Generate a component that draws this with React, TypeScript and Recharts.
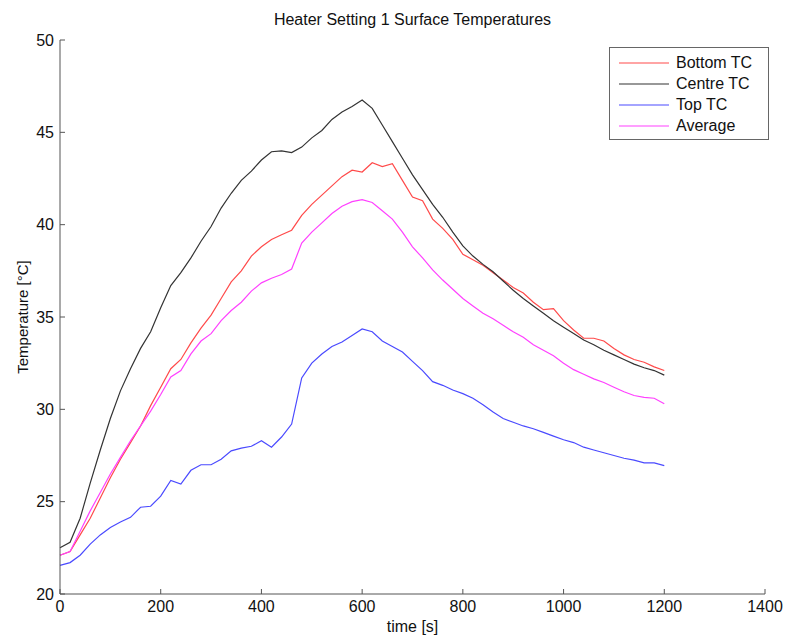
import React from "react";
import { LineChart, Line, XAxis, YAxis, Label } from "recharts";

// time axis (s), sampled every 20 s
const timeS = [
  0, 20, 40, 60, 80, 100, 120, 140, 160, 180, 200, 220, 240, 260, 280, 300, 320, 340, 360, 380,
  400, 420, 440, 460, 480, 500, 520, 540, 560, 580, 600, 620, 640, 660, 680, 700, 720, 740, 760, 780,
  800, 820, 840, 860, 880, 900, 920, 940, 960, 980, 1000, 1020, 1040, 1060, 1080, 1100, 1120, 1140, 1160, 1180,
  1200,
];

const bottomTC = [
  22.1, 22.3, 23.2, 24.1, 25.2, 26.3, 27.3, 28.2, 29.1, 30.2, 31.2, 32.2, 32.7, 33.6, 34.4, 35.1, 36.0, 36.9, 37.5, 38.3,
  38.8, 39.2, 39.45, 39.7, 40.5, 41.1, 41.6, 42.1, 42.6, 42.95, 42.85, 43.35, 43.15, 43.3, 42.4, 41.5, 41.3, 40.3, 39.8, 39.2,
  38.4, 38.1, 37.8, 37.4, 37.0, 36.6, 36.3, 35.8, 35.4, 35.45, 34.8, 34.3, 33.85, 33.85, 33.7, 33.3, 32.95, 32.7, 32.55, 32.3,
  32.1,
];

const centreTC = [
  22.5, 22.8, 24.1, 26.0, 27.8, 29.5, 31.0, 32.2, 33.3, 34.2, 35.5, 36.7, 37.4, 38.2, 39.1, 39.9, 40.9, 41.7, 42.4, 42.9,
  43.5, 43.95, 44.0, 43.9, 44.2, 44.7, 45.1, 45.7, 46.1, 46.4, 46.75, 46.3, 45.4, 44.5, 43.6, 42.7, 41.9, 41.1, 40.4, 39.6,
  38.85, 38.3, 37.85, 37.45, 36.95, 36.45, 36.0, 35.6, 35.2, 34.8, 34.45, 34.1, 33.75, 33.5, 33.2, 32.95, 32.7, 32.45, 32.25, 32.1,
  31.85,
];

const topTC = [
  21.55, 21.7, 22.1, 22.7, 23.2, 23.6, 23.9, 24.15, 24.7, 24.75, 25.3, 26.15, 25.95, 26.7, 27.0, 27.0, 27.3, 27.75, 27.9, 28.0,
  28.3, 27.95, 28.5, 29.2, 31.7, 32.5, 33.0, 33.4, 33.65, 34.0, 34.35, 34.2, 33.7, 33.4, 33.1, 32.6, 32.1, 31.5, 31.3, 31.05,
  30.85, 30.6, 30.25, 29.85, 29.5, 29.3, 29.1, 28.95, 28.75, 28.55, 28.35, 28.2, 27.95, 27.8, 27.65, 27.5, 27.35, 27.25, 27.1, 27.1,
  26.95,
];

const average = [
  22.1, 22.3, 23.4, 24.5, 25.5, 26.5, 27.4, 28.3, 29.1, 29.9, 30.8, 31.75, 32.1, 33.0, 33.7, 34.1, 34.8, 35.35, 35.8, 36.4,
  36.85, 37.1, 37.3, 37.6, 39.0, 39.6, 40.1, 40.6, 41.0, 41.25, 41.35, 41.2, 40.75, 40.3, 39.6, 38.8, 38.2, 37.55, 37.0, 36.5,
  36.0, 35.6, 35.2, 34.9, 34.55, 34.2, 33.9, 33.5, 33.2, 32.9, 32.5, 32.15, 31.9, 31.65, 31.45, 31.2, 30.95, 30.75, 30.65, 30.6,
  30.3,
];

const xTicks = [0, 200, 400, 600, 800, 1000, 1200, 1400];
const yTicks = [20, 25, 30, 35, 40, 45, 50];

const series = [
  { key: "bottom", name: "Bottom TC", color: "#ff4a4a" },
  { key: "centre", name: "Centre TC", color: "#333333" },
  { key: "top", name: "Top TC", color: "#4a4aff" },
  { key: "avg", name: "Average", color: "#ff40ff" },
];

const chartData = timeS.map((t, i) => ({
  t,
  bottom: bottomTC[i],
  centre: centreTC[i],
  top: topTC[i],
  avg: average[i],
}));

const FONT = "'Liberation Sans', Arial, Helvetica, sans-serif";

function LegendBox() {
  return (
    <div
      style={{
        position: "absolute",
        top: 47,
        left: 609,
        width: 149,
        border: "1px solid #666",
        background: "#fff",
        padding: "4px 0 3px 9px",
        fontFamily: FONT,
        fontSize: 16,
        color: "#111",
        whiteSpace: "nowrap",
      }}
    >
      {series.map((s) => (
        <div key={s.key} style={{ display: "flex", alignItems: "center", height: 21 }}>
          <svg width={50} height={4} style={{ marginRight: 7 }}>
            <line x1={0} y1={2} x2={50} y2={2} stroke={s.color} strokeWidth={1.2} />
          </svg>
          <span>{s.name}</span>
        </div>
      ))}
    </div>
  );
}

export default function App() {
  return (
    <div style={{ position: "absolute", left: 0, top: 0, width: 786, height: 637, background: "#fff" }}>
      <div
        style={{
          position: "absolute",
          top: 11,
          left: 60,
          width: 705,
          textAlign: "center",
          fontFamily: FONT,
          fontSize: 16,
          color: "#111",
        }}
      >
        Heater Setting 1 Surface Temperatures
      </div>
      <LineChart
        width={786}
        height={637}
        data={chartData}
        margin={{ top: 40, right: 21, left: 0, bottom: 0 }}
      >
        <XAxis
          dataKey="t"
          type="number"
          domain={[0, 1400]}
          ticks={xTicks}
          height={43}
          stroke="#555"
          tickSize={-5}
          tickMargin={12}
          tick={{ fontSize: 16, fill: "#111", fontFamily: FONT }}
        >
          <Label
            value="time [s]"
            position="insideBottom"
            offset={5}
            style={{ fontSize: 16, fill: "#111", fontFamily: FONT }}
          />
        </XAxis>
        <YAxis
          type="number"
          domain={[20, 50]}
          ticks={yTicks}
          width={60}
          stroke="#555"
          tickSize={-5}
          tickMargin={11}
          tick={{ fontSize: 16, fill: "#111", fontFamily: FONT }}
        >
          <Label
            content={({ viewBox }: any) => {
              const cx = viewBox.x + 22;
              const cy = viewBox.y + viewBox.height / 2;
              return (
                <text
                  x={cx}
                  y={cy}
                  transform={`rotate(-90 ${cx} ${cy})`}
                  textAnchor="middle"
                  dominantBaseline="central"
                  style={{ fontSize: 15, fill: "#111", fontFamily: FONT }}
                >
                  Temperature [°C]
                </text>
              );
            }}
          />
        </YAxis>
        {series.map((s) => (
          <Line
            key={s.key}
            dataKey={s.key}
            name={s.name}
            stroke={s.color}
            strokeWidth={1.2}
            dot={false}
            type="linear"
            isAnimationActive={false}
          />
        ))}
      </LineChart>
      <LegendBox />
    </div>
  );
}
